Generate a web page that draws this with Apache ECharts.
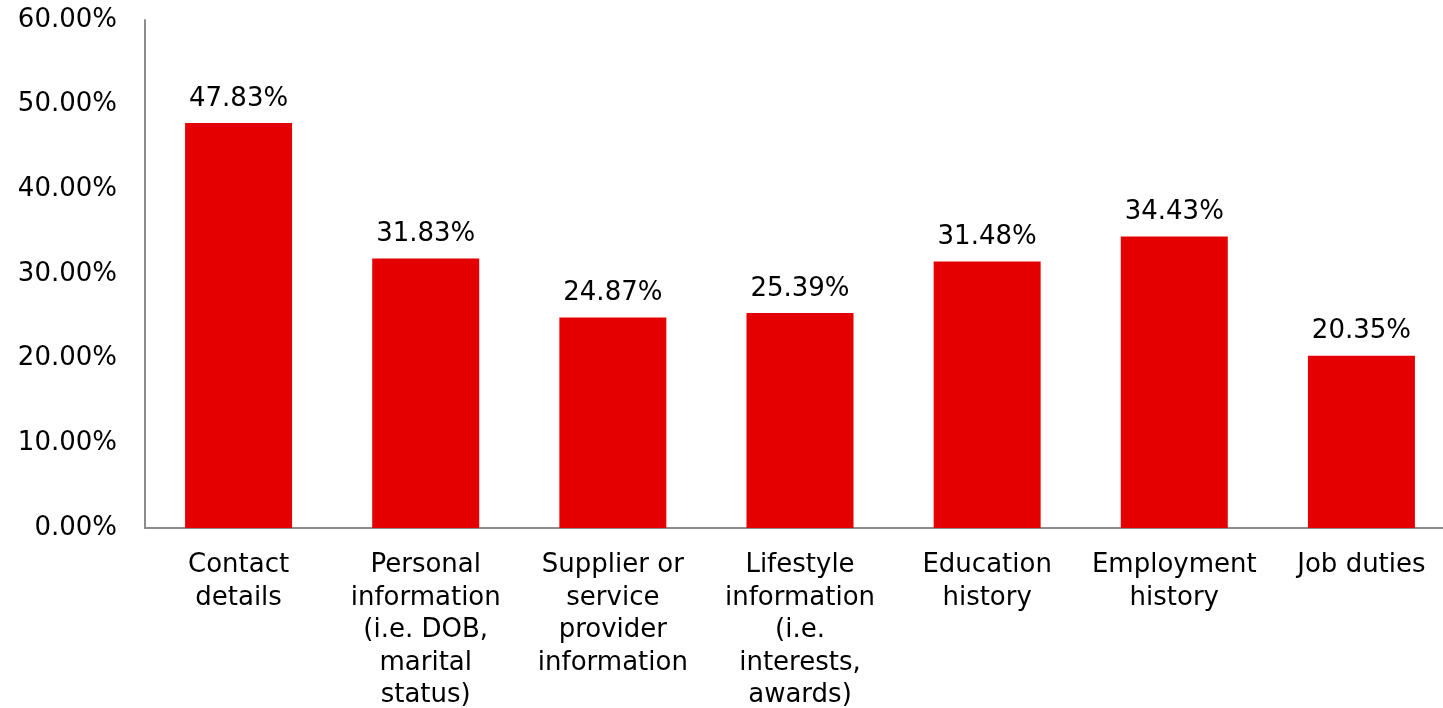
<!DOCTYPE html>
<html>
<head>
<meta charset="utf-8">
<script src="https://cdn.jsdelivr.net/npm/echarts@6/dist/echarts.min.js"></script>
<style>
html,body{margin:0;padding:0;background:#fff;}
#main{width:1443px;height:708px;}
</style>
</head>
<body>
<div id="main"></div>
<script>
const categories = [
  "Contact\ndetails",
  "Personal\ninformation\n(i.e. DOB,\nmarital\nstatus)",
  "Supplier or\nservice\nprovider\ninformation",
  "Lifestyle\ninformation\n(i.e.\ninterests,\nawards)",
  "Education\nhistory",
  "Employment\nhistory",
  "Job duties"
];
const values = [47.83, 31.83, 24.87, 25.39, 31.48, 34.43, 20.35];
const yMin = 0, yMax = 60, yStep = 10;

const chart = echarts.init(document.getElementById('main'), null, {renderer: 'canvas'});
const font = '"DejaVu Sans", Verdana, sans-serif';
chart.setOption({
  animation: false,
  grid: {left: 145, top: 20, width: 1310, height: 508, containLabel: false, outerBoundsMode: 'none'},
  xAxis: {
    type: 'category',
    data: categories,
    axisLine: {lineStyle: {color: '#8c8c8c', width: 2}},
    axisTick: {show: false},
    axisLabel: {color: '#000', fontFamily: font, fontSize: 26, lineHeight: 32.5, margin: 21, interval: 0}
  },
  yAxis: {
    type: 'value',
    min: yMin, max: yMax, interval: yStep,
    axisLine: {show: true, lineStyle: {color: '#8c8c8c', width: 2}},
    axisTick: {show: false},
    splitLine: {show: false},
    axisLabel: {color: '#000', fontFamily: font, fontSize: 26, margin: 28,
      formatter: v => v.toFixed(2) + '%'}
  },
  series: [{
    type: 'bar',
    data: values,
    barWidth: 107,
    itemStyle: {color: '#e40000'},
    label: {show: true, position: 'top', distance: 11, color: '#000', fontFamily: font, fontSize: 26,
      formatter: p => p.value.toFixed(2) + '%'}
  }]
});
</script>
</body>
</html>
